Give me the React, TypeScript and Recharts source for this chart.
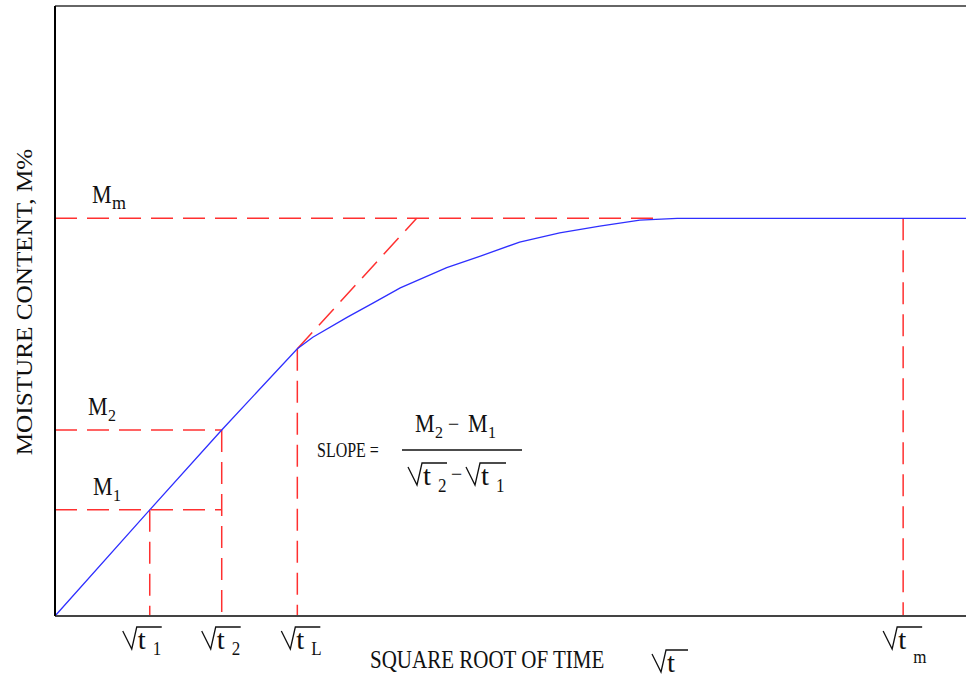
import { LineChart, Line, XAxis, YAxis, ReferenceLine } from "recharts";

// absorption curve: moisture content vs square root of time
const curveTime = [0, 10.4, 18.3, 26.6, 28.3, 32.1, 34.9, 37.9, 43.0, 46.7, 51.0, 55.4, 59.8, 64.2, 68.3, 100];
const curveMoisture = [0, 17.4, 30.5, 43.8, 45.7, 49.0, 51.3, 53.8, 57.1, 59.0, 61.3, 62.8, 63.9, 64.9, 65.2, 65.2];

// marked times on the x axis: √t1, √t2, √tL, √tm
const tickTimes = [10.4, 18.3, 26.6, 93.1];
const tickSubs = ["1", "2", "L", "m"];

// marked moisture levels: M1, M2, ML, Mm
const levelValues = [17.4, 30.5, 43.8, 65.2];

// where the initial slope meets the saturation level
const tangentEndTime = 39.7;

const [T1, T2, TL, TM] = tickTimes;
const [M1, M2, ML, MM] = levelValues;

const data = curveTime.map((t, i) => ({ t, m: curveMoisture[i] }));

const RED = "#ff3030";
const BLUE = "#2f2fff";
const INK = "#111";
const FONT = '"Liberation Serif", "Times New Roman", serif';
const DASH = "22 10";

// left offset of each tick label relative to its tick
const tickShift = [-27, -20, -16, -20];

function Txt({ x, y, size, sy = 1.2, children, anchor = "start" }: any) {
  return (
    <text
      transform={`translate(${x},${y}) scale(1,${sy})`}
      fontFamily={FONT}
      fontSize={size}
      fill={INK}
      textAnchor={anchor}
    >
      {children}
    </text>
  );
}

// "√t" with optional subscript; y is the top of the radical bar
function Radical({ x, y, sub, subDy = 6, bar = 39 }: any) {
  return (
    <g>
      <path
        d={`M${x},${y + 4} L${x + 9},${y + 22} L${x + 14},${y} L${x + bar},${y}`}
        fill="none"
        stroke={INK}
        strokeWidth={1.3}
      />
      <text
        transform={`translate(${x + 15},${y + 22}) scale(1.2,1.15)`}
        fontFamily={FONT}
        fontSize={24}
        fill={INK}
      >
        t
      </text>
      {sub ? (
        <Txt x={x + 30} y={y + 22 + subDy} size={17} sy={1.1}>{sub}</Txt>
      ) : null}
    </g>
  );
}

function MLabel({ x, y, sub }: any) {
  return (
    <g>
      <Txt x={x} y={y} size={22} sy={1.1}>M</Txt>
      <Txt x={x + 20} y={y + 6} size={sub === "m" ? 18 : 16} sy={1.1}>{sub}</Txt>
    </g>
  );
}

function levelLabel(sub: string, dx: number) {
  return {
    content: (p: any) => {
      const vb = p.viewBox || {};
      return <MLabel x={vb.x + dx} y={vb.y - 15} sub={sub} />;
    },
  };
}

function TimeTick({ x, y, payload }: any) {
  const i = tickTimes.indexOf(payload.value);
  const sub = tickSubs[i];
  return <Radical x={x + tickShift[i]} y={y + 3} sub={sub} subDy={sub === "m" ? 14 : 6} />;
}

function SlopeFormula() {
  return (
    <g>
      <Txt x={317} y={457} size={16} sy={1.3}>SLOPE =</Txt>
      <MLabel x={415} y={432} sub="2" />
      <Txt x={448} y={432} size={20}>−</Txt>
      <MLabel x={468} y={432} sub="1" />
      <line x1={402} y1={450} x2={522} y2={450} stroke={INK} strokeWidth={1.3} />
      <Radical x={408} y={463} sub="2" bar={39} subDy={7} />
      <Txt x={451} y={482} size={20}>−</Txt>
      <Radical x={466} y={463} sub="1" bar={40} subDy={7} />
    </g>
  );
}

export default function App() {
  return (
    <div style={{ position: "absolute", left: 0, top: 0, background: "#fff" }}>
      <LineChart width={966} height={677} data={data} margin={{ top: 6, right: 0, bottom: 0, left: 0 }}>
        <XAxis
          type="number"
          dataKey="t"
          domain={[0, 100]}
          ticks={tickTimes}
          tick={<TimeTick />}
          tickLine={false}
          height={61}
          axisLine={{ stroke: "#444", strokeWidth: 2 }}
          label={{
            content: (p: any) => {
              const vb = p.viewBox || { x: 55, y: 616 };
              return (
                <g>
                  <Txt x={vb.x + 315} y={vb.y + 52} size={21}>SQUARE ROOT OF TIME</Txt>
                  <Radical x={vb.x + 597} y={vb.y + 34} bar={36} />
                </g>
              );
            },
          }}
        />
        <YAxis
          type="number"
          domain={[0, 100]}
          tick={false}
          tickLine={false}
          width={55}
          axisLine={{ stroke: "#000", strokeWidth: 2 }}
          label={{
            content: () => (
              <text
                transform="translate(32,302) scale(1,1.05) rotate(-90)"
                fontFamily={FONT}
                fontSize={24}
                fill={INK}
                textAnchor="middle"
              >
                MOISTURE CONTENT, M%
              </text>
            ),
          }}
        />
        <ReferenceLine y={100} stroke="#666" strokeWidth={2} />

        <ReferenceLine segment={[{ x: 0, y: M1 }, { x: T2, y: M1 }]} stroke={RED} strokeWidth={1.5} strokeDasharray={DASH} label={levelLabel("1", 38)} />
        <ReferenceLine segment={[{ x: 0, y: M2 }, { x: T2, y: M2 }]} stroke={RED} strokeWidth={1.5} strokeDasharray={DASH} label={levelLabel("2", 33)} />
        <ReferenceLine segment={[{ x: 0, y: MM }, { x: 66, y: MM }]} stroke={RED} strokeWidth={1.5} strokeDasharray={DASH} label={levelLabel("m", 37)} />
        <ReferenceLine segment={[{ x: T1, y: M1 }, { x: T1, y: 0 }]} stroke={RED} strokeWidth={1.5} strokeDasharray={DASH} />
        <ReferenceLine segment={[{ x: T2, y: M2 }, { x: T2, y: 0 }]} stroke={RED} strokeWidth={1.5} strokeDasharray={DASH} />
        <ReferenceLine segment={[{ x: TL, y: ML }, { x: TL, y: 0 }]} stroke={RED} strokeWidth={1.5} strokeDasharray={DASH} />
        <ReferenceLine segment={[{ x: TM, y: MM }, { x: TM, y: 0 }]} stroke={RED} strokeWidth={1.5} strokeDasharray={DASH} />
        <ReferenceLine segment={[{ x: TL, y: ML }, { x: tangentEndTime, y: MM }]} stroke={RED} strokeWidth={1.5} strokeDasharray={DASH} />

        <Line
          type="linear"
          dataKey="m"
          stroke={BLUE}
          strokeWidth={1.3}
          dot={false}
          activeDot={false}
          isAnimationActive={false}
        />
        <SlopeFormula />
      </LineChart>
    </div>
  );
}
